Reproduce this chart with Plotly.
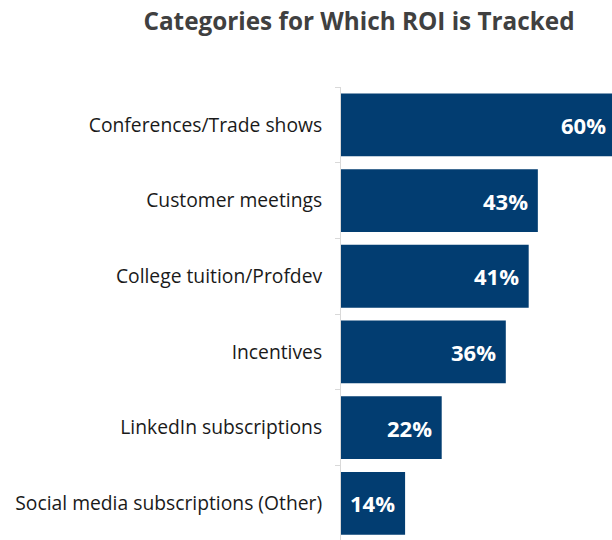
import plotly.graph_objects as go

categories = [
    "Conferences/Trade shows",
    "Customer meetings",
    "College tuition/Profdev",
    "Incentives",
    "LinkedIn subscriptions",
    "Social media subscriptions (Other)",
]
values = [60, 43, 41, 36, 22, 14]
labels = [f"{v}%" for v in values]

BAR = "#023d71"
FONT = "Open Sans"

W, H = 612, 540
M_LEFT, M_TOP = 341, 87
X_MAX = 59.2  # the longest bar runs slightly past the right edge
PX_PER_UNIT = (W - M_LEFT) / X_MAX
PAD = 8  # gap between label and bar end, px

fig = go.Figure(
    go.Bar(
        x=values,
        y=categories,
        orientation="h",
        width=0.83,
        marker=dict(color=BAR, line=dict(width=0)),
        hoverinfo="x+y",
    )
)

# value labels, right-aligned just inside the end of each bar; a bar that
# overflows the axis gets its label anchored at the axis end and shifted
# by the overflow so it still sits PAD px before the bar's true end
for cat, val, lab in zip(categories, values, labels):
    anchor = min(val, X_MAX)
    overflow_px = (val - anchor) * PX_PER_UNIT
    fig.add_annotation(
        x=anchor,
        y=cat,
        xref="x",
        yref="y",
        text=f"<b>{lab}</b>",
        showarrow=False,
        xanchor="right",
        yanchor="middle",
        xshift=overflow_px - PAD,
        font=dict(family=FONT, size=22, color="white"),
    )

fig.update_layout(
    width=W,
    height=H,
    margin=dict(l=M_LEFT, r=0, t=M_TOP, b=0),
    paper_bgcolor="white",
    plot_bgcolor="white",
    showlegend=False,
    title=dict(
        text="<b>Categories for Which ROI is Tracked</b>",
        font=dict(family=FONT, size=24.3, color="#404040"),
        x=359 / W,
        xanchor="center",
        xref="container",
        y=1 - 21 / H,
        yanchor="middle",
    ),
    font=dict(family=FONT),
)

fig.update_xaxes(
    range=[0, X_MAX],
    visible=False,
    fixedrange=True,
)

fig.update_yaxes(
    categoryorder="array",
    categoryarray=categories,
    range=[5.484, -0.5],
    showline=True,
    linecolor="#d9d9d9",
    linewidth=1,
    ticks="outside",
    tickson="boundaries",
    ticklen=5,
    tickcolor="#d9d9d9",
    ticklabelstandoff=14,
    tickfont=dict(family=FONT, size=19.3, color="#1a1a1a"),
    showgrid=False,
    zeroline=False,
)

fig.write_html("out.html")
